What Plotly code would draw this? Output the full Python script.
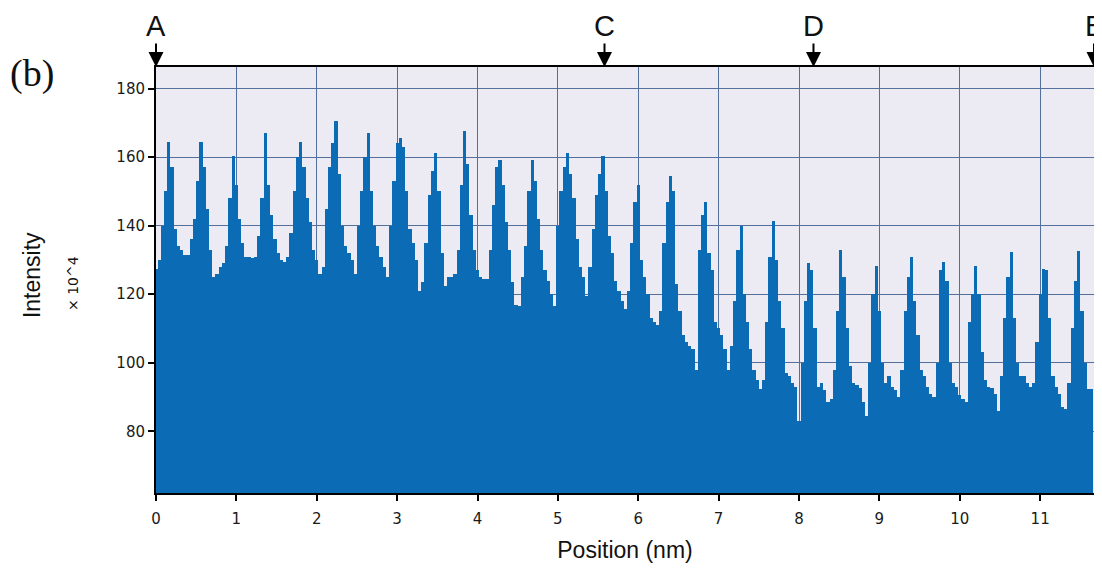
import plotly.graph_objects as go

# Intensity profile (x10^4), sampled every 0.04 nm along A -> B
step_nm = 0.04
intensity = [
    127.5, 130, 140, 150, 164.5, 157, 139, 134, 133, 131.5,
    131.5, 136, 142, 153, 164.5, 157, 145, 133, 125, 126,
    128, 129, 134, 148, 160.3, 152, 142, 135, 131, 131,
    130.5, 131, 137, 148, 167, 152, 143, 136, 132, 130,
    129.5, 131, 138, 150, 160, 164.3, 157, 148, 141, 133,
    130, 126, 128, 145, 157, 164, 170.5, 155, 140, 134,
    132, 130, 126, 140, 150, 160, 167, 150, 140, 134,
    131, 128, 125, 140, 153, 164, 165.5, 163, 150, 139,
    135, 130, 121, 123.5, 135, 149, 156, 161.3, 150, 132,
    122.5, 125, 125, 126, 133, 152, 167.5, 158, 143, 133,
    127, 125, 124.5, 124.5, 133, 146, 157, 159.3, 152, 141,
    133, 123.5, 117, 116.6, 125, 134, 150, 159.3, 153, 142,
    133, 127, 124, 120, 116.6, 140, 150, 157, 161.3, 155,
    148, 136, 128, 125, 119.5, 128, 139, 149, 155, 160.3,
    150, 137, 132, 124, 121, 118, 115.7, 121, 135, 147,
    152, 130, 125, 120, 113, 112, 111, 115, 135, 147,
    154.5, 150, 123, 115, 108, 106, 105, 104, 98, 133,
    143, 146.8, 132, 127, 112, 110, 108, 104, 98, 105,
    118, 133, 140, 120, 112, 104, 98, 95, 92.4, 95,
    112, 131, 141.4, 130, 118, 110, 97, 96, 94, 93,
    83, 100, 118, 129, 127, 110, 93, 94, 92, 88.5,
    89.5, 98, 115, 133, 125, 110, 99, 94, 93.5, 92.5,
    88.5, 84.6, 100, 120, 128.3, 115, 100, 94, 96, 93,
    92, 90, 98, 115, 125, 131, 118, 108, 98, 96,
    93, 91, 90, 100, 127, 129.3, 124, 100, 94, 93,
    90.5, 89.5, 88.5, 112, 120, 128.3, 120, 103, 95, 93,
    92.5, 91, 86, 96, 113, 125, 132.2, 113, 100, 96,
    96, 94, 93, 94, 106, 120, 127.3, 127, 113, 96,
    93, 91, 87, 86.5, 94, 110, 124, 132.6, 115, 100,
    92.4, 92.4,
]
position = [round(i * step_nm, 2) for i in range(len(intensity))]

x_ticks = list(range(0, 12))
y_ticks = [80, 100, 120, 140, 160, 180]

marker_labels = ["A", "C", "D", "B"]
marker_positions = [0.0, 5.58, 8.18, 11.67]

fig = go.Figure()
fig.add_trace(go.Bar(
    x=position, y=intensity, width=step_nm,
    marker=dict(color="#0b6cb5", line=dict(width=0)),
    hoverinfo="x+y",
))

axis_font = dict(family="DejaVu Sans", size=15, color="#1a1a1a")

fig.update_layout(
    width=1102, height=571,
    margin=dict(l=148, r=16, t=59, b=86),
    paper_bgcolor="white",
    plot_bgcolor="#eceaf2",
    bargap=0,
    showlegend=False,
    xaxis=dict(
        range=[0, 11.67], tickvals=x_ticks, ticks="outside", ticklen=6,
        tickcolor="black", tickwidth=2, tickfont=axis_font, ticklabelstandoff=5,
        showgrid=True, gridcolor="#53709c", gridwidth=1,
        showline=True, linecolor="black", linewidth=2, mirror=True,
        zeroline=False,
        title=dict(text="Position (nm)", font=dict(family="Liberation Sans", size=23, color="#111"), standoff=15),
    ),
    yaxis=dict(
        range=[62.0, 186.3], tickvals=y_ticks, ticks="outside", ticklen=6,
        tickcolor="black", tickwidth=2, tickfont=axis_font,
        showgrid=True, gridcolor="#53709c", gridwidth=1,
        showline=True, linecolor="black", linewidth=2, mirror=True,
        zeroline=False,
    ),
)

# y-axis titles
fig.add_annotation(text="Intensity", xref="paper", yref="paper", x=-0.132, y=0.512,
                   xanchor="center", yanchor="middle", textangle=-90, showarrow=False,
                   font=dict(family="Liberation Sans", size=23, color="#111"))
fig.add_annotation(text="× 10^4", xref="paper", yref="paper", x=-0.0885, y=0.493,
                   xanchor="center", yanchor="middle", textangle=-90, showarrow=False,
                   font=dict(family="DejaVu Sans", size=14, color="#111"))
# panel label
fig.add_annotation(text="(b)", xref="paper", yref="paper", x=-0.132, y=0.985,
                   xanchor="center", yanchor="middle", showarrow=False,
                   font=dict(family="Liberation Serif", size=38, color="#111"))

# position markers A, C, D, B
for lab, pos in zip(marker_labels, marker_positions):
    fig.add_annotation(text=lab, x=pos, xref="x", y=1, yref="paper",
                       showarrow=True, ax=0, ay=-41, arrowhead=2, arrowsize=1.5,
                       arrowwidth=2, arrowcolor="black", standoff=0,
                       font=dict(family="Liberation Sans", size=29, color="#111"))

fig.write_html("out.html")
